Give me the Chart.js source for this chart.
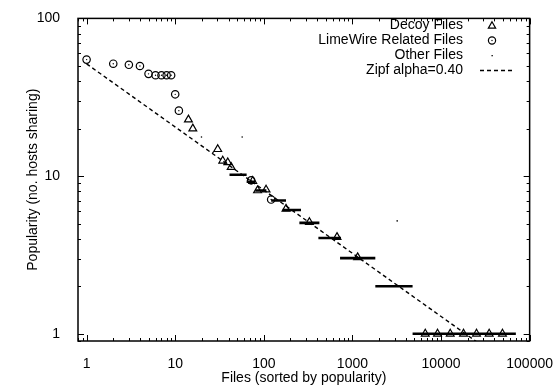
<!DOCTYPE html>
<html>
<head>
<meta charset="utf-8">
<title>File popularity</title>
<script src="https://cdn.jsdelivr.net/npm/chart.js@4.4.1/dist/chart.umd.min.js"></script>
<style>
    html, body { margin: 0; padding: 0; background: #fff; }
    #wrap { width: 560px; height: 387px; }
</style>
</head>
<body>
<div id="wrap"><canvas id="popChart" width="560" height="387"></canvas></div>
<script>
// Decoy files (triangles)
const decoyX = [14.1, 15.8, 30.2, 34.4, 39.2, 42.8, 75, 85, 106, 178, 327, 670, 1145,
                6640, 9130, 12700, 17940, 25150, 34930, 49350];
const decoyY = [22.8, 20, 14.8, 12.5, 12.2, 11.4, 9.3, 8.1, 8.2, 6.2, 5.1, 4.1, 3.05,
                1, 1, 1, 1, 1, 1, 1];

// LimeWire related files (circles)
const limeX = [1, 2, 3, 4, 5, 6, 7, 8, 9, 10, 11, 72, 121];
const limeY = [54.8, 51.6, 50.8, 49.9, 44.5, 43.6, 43.6, 43.6, 43.6, 33, 26, 9.4, 7.1];

// Other files: a few isolated dots, plus runs of files sharing one popularity
const otherX = [19.8, 26.7, 57, 3200];
const otherY = [17.7, 14.1, 17.7, 5.2];
const runY = [10.2, 9.2, 8.1, 7, 6.1, 5.05, 4.05, 3.02, 2, 1];
const runFrom = [41, 64, 80, 121, 163, 252, 413, 725, 1813, 4775];
const runTo = [64, 80, 107, 178, 263, 424, 743, 1813, 4775, 69900];

// Zipf fit, end points
const zipfX = [1, 30000];
const zipfY = [51.5, 0.83];

// Axes
const xTicks = [1, 10, 100, 1000, 10000, 100000];
const yTicks = [1, 10, 100];
const xTitle = 'Files (sorted by popularity)';
const yTitle = 'Popularity (no. hosts sharing)';
const legendLabels = ['Decoy Files', 'LimeWire Related Files', 'Other Files', 'Zipf alpha=0.40'];

const FONT = '"Liberation Sans", Arial, Helvetica, sans-serif';
Chart.defaults.font.family = FONT;
Chart.defaults.font.size = 14;
Chart.defaults.color = '#000';

const toPoints = (xs, ys) => xs.map((x, i) => ({ x: x, y: ys[i] }));

const runPoints = [];
runY.forEach((y, i) => {
    runPoints.push({ x: runFrom[i], y: y }, { x: runTo[i], y: y }, { x: runTo[i], y: null });
});

function triangle(ctx, x, y, r) {
    ctx.beginPath();
    ctx.moveTo(x, y - r);
    ctx.lineTo(x + r * 0.866, y + r * 0.5);
    ctx.lineTo(x - r * 0.866, y + r * 0.5);
    ctx.closePath();
    ctx.stroke();
}

// box, inward ticks and legend
const framePlugin = {
    id: 'frame',
    afterDraw(chart) {
        const { ctx, chartArea: a, scales } = chart;
        ctx.save();
        ctx.strokeStyle = '#000';
        ctx.lineWidth = 1.5;
        ctx.strokeRect(a.left, a.top, a.right - a.left, a.bottom - a.top);

        ctx.lineWidth = 1;
        ctx.beginPath();
        const decades = [0.1, 1, 10, 100, 1000, 10000, 100000];
        decades.forEach(d => {
            for (let m = 1; m <= 9; m++) {
                const v = d * m;
                const len = m === 1 ? 6 : 3;
                if (v >= scales.x.min && v <= scales.x.max) {
                    const px = Math.round(scales.x.getPixelForValue(v)) + 0.5;
                    ctx.moveTo(px, a.bottom); ctx.lineTo(px, a.bottom - len);
                    ctx.moveTo(px, a.top); ctx.lineTo(px, a.top + len);
                }
                if (v >= scales.y.min && v <= scales.y.max) {
                    const py = Math.round(scales.y.getPixelForValue(v)) + 0.5;
                    ctx.moveTo(a.left, py); ctx.lineTo(a.left + len, py);
                    ctx.moveTo(a.right, py); ctx.lineTo(a.right - len, py);
                }
            }
        });
        ctx.stroke();

        // legend
        const textRight = 463;
        const symX = 492;
        ctx.font = '14px ' + FONT;
        ctx.fillStyle = '#000';
        ctx.textAlign = 'right';
        ctx.textBaseline = 'middle';
        legendLabels.forEach((label, i) => {
            const ly = 25.5 + i * 15;
            ctx.fillText(label, textRight, ly);
            if (i === 0) {
                ctx.lineWidth = 1.2;
                triangle(ctx, symX, ly + 0.5, 4.2);
            } else if (i === 1) {
                ctx.lineWidth = 1.2;
                ctx.beginPath();
                ctx.arc(symX, ly, 3.6, 0, Math.PI * 2);
                ctx.stroke();
                ctx.fillRect(symX - 0.6, ly - 0.6, 1.2, 1.2);
            } else if (i === 2) {
                ctx.fillRect(symX - 0.5, ly - 0.5, 1.3, 1.3);
            } else {
                ctx.lineWidth = 1.4;
                ctx.setLineDash([4, 3]);
                ctx.beginPath();
                ctx.moveTo(480, ly);
                ctx.lineTo(514, ly);
                ctx.stroke();
                ctx.setLineDash([]);
            }
        });
        ctx.restore();
    }
};

new Chart(document.getElementById('popChart'), {
    type: 'scatter',
    data: {
        datasets: [
            {
                label: legendLabels[0],
                data: toPoints(decoyX, decoyY),
                pointStyle: 'triangle',
                pointRadius: 4.5,
                borderColor: '#000',
                backgroundColor: 'rgba(0,0,0,0)',
                borderWidth: 1.2,
                order: 1
            },
            {
                label: legendLabels[1],
                data: toPoints(limeX, limeY),
                pointStyle: 'circle',
                pointRadius: 3.7,
                borderColor: '#000',
                backgroundColor: 'rgba(0,0,0,0)',
                borderWidth: 1.2,
                order: 2
            },
            {
                label: legendLabels[1] + ' (centre)',
                data: toPoints(limeX, limeY),
                pointStyle: 'circle',
                pointRadius: 0.7,
                borderWidth: 0,
                backgroundColor: '#000',
                order: 2
            },
            {
                label: legendLabels[2],
                data: toPoints(otherX, otherY),
                pointRadius: 0.8,
                borderWidth: 0,
                backgroundColor: '#000',
                order: 3
            },
            {
                label: legendLabels[2],
                data: runPoints,
                showLine: true,
                spanGaps: false,
                pointRadius: 0,
                borderColor: '#000',
                borderWidth: 2.6,
                order: 4
            },
            {
                label: legendLabels[3],
                data: toPoints(zipfX, zipfY),
                showLine: true,
                pointRadius: 0,
                borderColor: '#000',
                borderWidth: 1.4,
                borderDash: [4, 3],
                order: 5
            }
        ]
    },
    options: {
        responsive: false,
        animation: false,
        devicePixelRatio: 1,
        events: [],
        layout: { padding: { top: 14, right: 29, left: 0, bottom: 0 } },
        plugins: { legend: { display: false }, tooltip: { enabled: false } },
        scales: {
            x: {
                type: 'logarithmic',
                min: 0.8,
                max: 100000,
                afterBuildTicks: s => { s.ticks = xTicks.map(v => ({ value: v })); },
                afterFit: s => { s.height = 46; },
                grid: { display: false },
                border: { display: false },
                ticks: { padding: 7, autoSkip: false, maxRotation: 0, callback: v => String(v) },
                title: { display: true, text: xTitle, padding: { top: 0, bottom: 0 } }
            },
            y: {
                type: 'logarithmic',
                min: 0.9,
                max: 100,
                afterBuildTicks: s => { s.ticks = yTicks.map(v => ({ value: v })); },
                afterFit: s => { s.width = 78; },
                grid: { display: false },
                border: { display: false },
                ticks: { padding: 10, autoSkip: false, callback: v => String(v) },
                title: { display: true, text: yTitle, padding: { top: 25, bottom: 0 } }
            }
        }
    },
    plugins: [framePlugin]
});
</script>
</body>
</html>
